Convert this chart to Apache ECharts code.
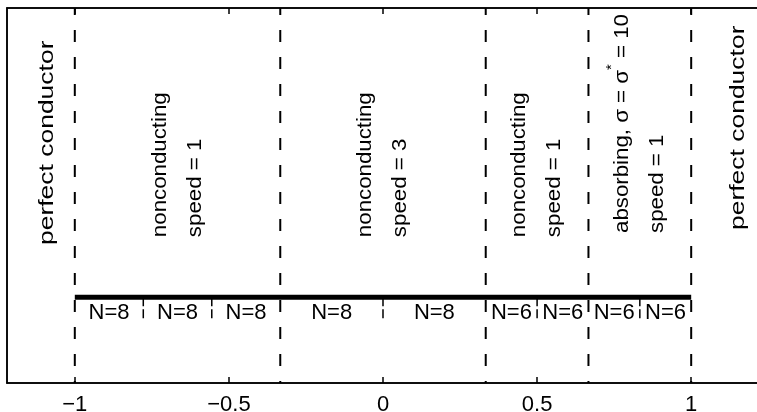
<!DOCTYPE html>
<html>
<head>
<meta charset="utf-8">
<script src="https://cdn.jsdelivr.net/npm/echarts@6/dist/echarts.min.js"></script>
<style>
  html, body { margin: 0; padding: 0; background: #fff; }
  #chart { width: 757px; height: 412px; }
</style>
</head>
<body>
<div id="chart"></div>
<script>
// Tick positions on the x axis
const xTicks = [-1, -0.5, 0, 0.5, 1];

// Material interfaces (region boundaries)
const interfaces = [-1, -1 / 3, 1 / 3, 2 / 3, 1];

// Element boundaries and the polynomial order of each element
const cellEdges = [-1, -7 / 9, -5 / 9, -1 / 3, 0, 1 / 3, 1 / 2, 2 / 3, 5 / 6, 1];
const cellOrders = [8, 8, 8, 8, 8, 6, 6, 6, 6];

// Region descriptions, left to right (outer conductor, four media, outer conductor)
const regionTexts = [
  ['perfect conductor'],
  ['nonconducting', 'speed = 1'],
  ['nonconducting', 'speed = 3'],
  ['nonconducting', 'speed = 1'],
  ['absorbing, \u03c3 = \u03c3{sup|*} = 10', 'speed = 1'],
  ['perfect conductor']
];

// ---- layout & style ----
const FONT = '"Liberation Sans", Arial, Helvetica, sans-serif';
const layout = {
  xMin: -1.22, xMax: 1.233,
  yTop: 1, yBottom: 0,
  domainY: 0.229,        // thick line representing the computational domain
  cellTickY: 0.171,      // lower end of element boundary ticks
  cellLabelY: 0.187,     // element label centre
  outerLabelX: [-1.09, 1.153],
  regionTextY: [0.368, 0.389, 0.389, 0.389, 0.4, 0.408],
  regionStretch: [1.26, 1.06, 1.06, 1.06, 1.06, 1.26],
  regionFont: 21,
  regionLine: 35,
  cellFont: 22
};

// anchors for region text: outer labels sit outside the domain, inner ones at region centres
const regionX = [layout.outerLabelX[0]];
for (let i = 0; i < interfaces.length - 1; i++) {
  regionX.push((interfaces[i] + interfaces[i + 1]) / 2);
}
regionX.push(layout.outerLabelX[1]);

const interiorEdges = cellEdges.filter(e => !interfaces.some(b => Math.abs(b - e) < 1e-9));

const cells = cellOrders.map((n, i) => [(cellEdges[i] + cellEdges[i + 1]) / 2, n]);

const chart = echarts.init(document.getElementById('chart'), null, { renderer: 'canvas' });

const axisLineStyle = { color: '#000', width: 1.5 };
const tickStyle = { color: '#000', width: 1.5 };
const minusFmt = v => (v < 0 ? '\u2212' + Math.abs(v) : String(v));

chart.setOption({
  animation: false,
  backgroundColor: '#fff',
  grid: {
    // plot box runs past the right edge of the canvas
    left: 7, top: 8, width: 756, bottom: 29,
    containLabel: false, outerBoundsMode: 'none',
    show: true, borderColor: '#000', borderWidth: 1.5, backgroundColor: 'transparent'
  },
  xAxis: [
    {
      type: 'value', position: 'bottom', min: layout.xMin, max: layout.xMax,
      axisLine: { show: true, onZero: false, lineStyle: axisLineStyle },
      axisTick: { show: true, inside: true, length: 6, customValues: xTicks, lineStyle: tickStyle },
      axisLabel: { show: true, customValues: xTicks, formatter: minusFmt, margin: 11,
        color: '#000', fontSize: 22, fontFamily: FONT },
      splitLine: { show: false }
    },
    {
      type: 'value', position: 'top', min: layout.xMin, max: layout.xMax,
      axisLine: { show: true, onZero: false, lineStyle: axisLineStyle },
      axisTick: { show: true, inside: true, length: 6, customValues: xTicks, lineStyle: tickStyle },
      axisLabel: { show: false },
      splitLine: { show: false }
    }
  ],
  yAxis: {
    type: 'value', min: layout.yBottom, max: layout.yTop, position: 'left',
    axisLine: { show: true, onZero: false, lineStyle: axisLineStyle },
    axisTick: { show: false }, axisLabel: { show: false }, splitLine: { show: false }
  },
  series: [
    // dashed interfaces between media
    {
      type: 'custom', silent: true, z: 2,
      data: interfaces.map(x => [x, 0]),
      renderItem: (params, api) => {
        const x = api.value(0);
        const a = api.coord([x, layout.yTop]);
        const b = api.coord([x, layout.yBottom]);
        return {
          type: 'line',
          shape: { x1: a[0], y1: a[1], x2: b[0], y2: b[1] },
          style: { stroke: '#000', lineWidth: 2, lineDash: [12, 15], lineDashOffset: 5, fill: null }
        };
      }
    },
    // short ticks at element boundaries
    {
      type: 'custom', silent: true, z: 2,
      data: interiorEdges.map(x => [x, 0]),
      renderItem: (params, api) => {
        const x = api.value(0);
        const a = api.coord([x, layout.domainY]);
        const b = api.coord([x, layout.cellTickY]);
        return {
          type: 'line',
          shape: { x1: a[0], y1: a[1], x2: b[0], y2: b[1] },
          style: { stroke: '#000', lineWidth: 1.5, lineDash: [9, 3], fill: null }
        };
      }
    },
    // the domain [-1, 1]
    {
      type: 'line', silent: true, z: 3, symbol: 'none',
      data: [[interfaces[0], layout.domainY], [interfaces[interfaces.length - 1], layout.domainY]],
      lineStyle: { color: '#000', width: 5, cap: 'butt' }
    },
    // element order labels
    {
      type: 'custom', silent: true, z: 4,
      data: cells,
      renderItem: (params, api) => {
        const p = api.coord([api.value(0), layout.cellLabelY]);
        return {
          type: 'text', x: p[0], y: p[1],
          style: {
            text: 'N=' + api.value(1), fill: '#000', fontSize: layout.cellFont, fontFamily: FONT,
            align: 'center', verticalAlign: 'middle'
          }
        };
      }
    },
    // region descriptions, rotated to read bottom-to-top
    {
      type: 'custom', silent: true, z: 4,
      data: regionX.map((x, i) => [x, i]),
      renderItem: (params, api) => {
        const i = params.dataIndex;
        const p = api.coord([api.value(0), layout.regionTextY[i]]);
        return {
          type: 'text', x: p[0], y: p[1], rotation: Math.PI / 2,
          scaleX: layout.regionStretch[i], scaleY: 1,
          style: {
            text: regionTexts[i].join('\n'), fill: '#000',
            fontSize: layout.regionFont, fontFamily: FONT,
            lineHeight: layout.regionLine, align: 'left', verticalAlign: 'middle',
            rich: {
              sup: { fontSize: 14, fontFamily: FONT, fill: '#000', lineHeight: 16, verticalAlign: 'top' }
            }
          }
        };
      }
    }
  ]
});
</script>
</body>
</html>
